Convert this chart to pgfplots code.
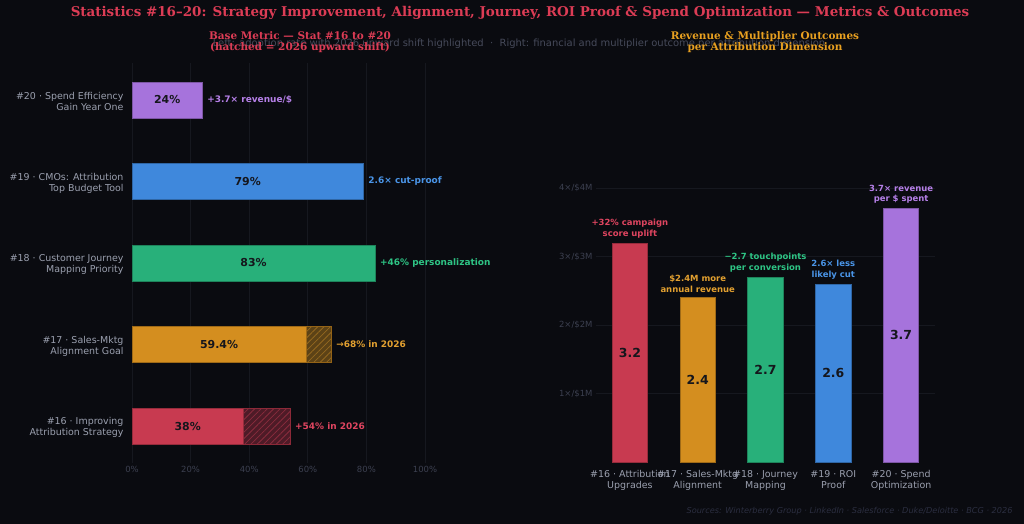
\documentclass[border=0pt]{standalone}
\usepackage{fontspec}
\setmainfont{DejaVu Sans}
\newfontfamily\titlefont{DejaVu Serif}
\usepackage{pgfplots}
\pgfplotsset{compat=1.18}
\usetikzlibrary{patterns.meta}

\definecolor{bg}{HTML}{0A0B10}
\definecolor{gridc}{HTML}{16181F}
\definecolor{catlab}{HTML}{9BA0AF}
\definecolor{dimtick}{HTML}{3C4050}
\definecolor{subt}{HTML}{464A5A}
\definecolor{srcc}{HTML}{2B2E40}
\definecolor{inlab}{HTML}{15161C}
\definecolor{titlered}{HTML}{DC3C55}
\definecolor{titleorange}{HTML}{E8A020}
% series colours
\definecolor{cred}{HTML}{C83A50}
\definecolor{corange}{HTML}{D48E1F}
\definecolor{cgreen}{HTML}{28B07A}
\definecolor{cblue}{HTML}{3F88DC}
\definecolor{cpurple}{HTML}{A673DC}
\definecolor{tred}{HTML}{E04560}
\definecolor{torange}{HTML}{E2A030}
\definecolor{tgreen}{HTML}{2EC585}
\definecolor{tblue}{HTML}{4A95E8}
\definecolor{tpurple}{HTML}{B680E8}
% 2026 shift (hatched) colours
\definecolor{hredbg}{HTML}{4E1B27}
\definecolor{hredln}{HTML}{8A2C3E}
\definecolor{horangebg}{HTML}{5C4216}
\definecolor{horangeln}{HTML}{94681F}

\begin{document}
\begin{tikzpicture}
\useasboundingbox (0,0) rectangle (1024bp,-524bp);
\fill[bg] (0,0) rectangle (1024bp,-524bp);

% titles
\node[font=\titlefont\bfseries\fontsize{13.5}{16}\selectfont, text=titlered] at (520bp,-13bp)
  {Statistics \#16–20: Strategy Improvement, Alignment, Journey, ROI Proof \& Spend Optimization — Metrics \& Outcomes};
\node[font=\fontsize{10}{12}\selectfont, text=subt] at (519bp,-43.5bp)
  {Left: adoption rate with 2026 upward shift highlighted \ · \ Right: financial and multiplier outcome per attribution dimension};
\node[font=\titlefont\bfseries\fontsize{10.5}{11.5}\selectfont, text=titlered, align=center] at (300bp,-42bp)
  {Base Metric — Stat \#16 to \#20\\(hatched = 2026 upward shift)};
\node[font=\titlefont\bfseries\fontsize{10.5}{11.5}\selectfont, text=titleorange, align=center] at (765bp,-42bp)
  {Revenue \& Multiplier Outcomes\\per Attribution Dimension};
\node[font=\itshape\fontsize{8.2}{10}\selectfont, text=srcc, anchor=east] at (1016bp,-511bp)
  {Sources: Winterberry Group · LinkedIn · Salesforce · Duke/Deloitte · BCG · 2026};

% ---------------- left: base metric per stat ----------------
\begin{axis}[
  at={(132bp,-462.7bp)}, anchor=south west,
  scale only axis, width=293bp, height=399.4bp,
  xmin=0, xmax=100, ymin=-0.45, ymax=4.45,
  xtick={0,20,40,60,80,100},
  xticklabels={0\%,20\%,40\%,60\%,80\%,100\%},
  ytick={0,1,2,3,4},
  yticklabels={{\#16 · Improving\\Attribution Strategy},
               {\#17 · Sales-Mktg\\Alignment Goal},
               {\#18 · Customer Journey\\Mapping Priority},
               {\#19 · CMOs: Attribution\\Top Budget Tool},
               {\#20 · Spend Efficiency\\Gain Year One}},
  yticklabel style={align=right, font=\fontsize{9.5}{11}\selectfont, text=catlab, xshift=-5bp, yshift=-1.5bp},
  xticklabel style={font=\fontsize{8.5}{10}\selectfont, text=dimtick},
  axis line style={draw=none},
  major tick length=0pt,
  xmajorgrids, major grid style={draw=gridc, line width=0.7pt},
  xbar, bar width=0.44,
  clip=false,
  lbar/.style={xbar, bar width=0.44, bar shift=0pt, line width=0.8pt},
]
% 2026 upward shift (hatched)
\addplot[lbar, draw=cred!70!black, fill=hredbg,
  postaction={pattern={Lines[angle=45,distance=4.5pt,line width=0.8pt]}, pattern color=hredln}]
  coordinates {(54,0)};
\addplot[lbar, draw=corange!70!black, fill=horangebg,
  postaction={pattern={Lines[angle=45,distance=4.5pt,line width=0.8pt]}, pattern color=horangeln}]
  coordinates {(68,1)};
% base metric
\addplot[lbar, draw=cred!75!black, fill=cred] coordinates {(38,0)};
\addplot[lbar, draw=corange!75!black, fill=corange] coordinates {(59.4,1)};
\addplot[lbar, draw=cgreen!75!black, fill=cgreen] coordinates {(83,2)};
\addplot[lbar, draw=cblue!75!black, fill=cblue] coordinates {(79,3)};
\addplot[lbar, draw=cpurple!75!black, fill=cpurple] coordinates {(24,4)};

\begin{scope}[every node/.style={font=\bfseries\fontsize{11}{13}\selectfont, text=inlab}]
\node at (19,0) {38\%};
\node at (29.7,1) {59.4\%};
\node at (41.5,2) {83\%};
\node at (39.5,3) {79\%};
\node at (12,4) {24\%};
\end{scope}
\begin{scope}[every node/.style={font=\bfseries\fontsize{9}{11}\selectfont, anchor=west, xshift=1.5pt}]
\node[text=tred] at (54,0) {+54\% in 2026};
\node[text=torange] at (68,1) {→68\% in 2026};
\node[text=tgreen] at (83,2) {+46\% personalization};
\node[text=tblue] at (79,3) {2.6× cut-proof};
\node[text=tpurple] at (24,4) {+3.7× revenue/\$};
\end{scope}
\end{axis}

% ---------------- right: revenue & multiplier outcomes ----------------
\begin{axis}[
  at={(596bp,-462bp)}, anchor=south west,
  scale only axis, width=339bp, height=397bp,
  xmin=-0.5, xmax=4.5, ymin=0, ymax=5.8,
  ytick={1,2,3,4},
  yticklabels={1×/\$1M,2×/\$2M,3×/\$3M,4×/\$4M},
  xtick={0,1,2,3,4},
  xticklabels={{\#16 · Attribution\\Upgrades},
               {\#17 · Sales-Mktg\\Alignment},
               {\#18 · Journey\\Mapping},
               {\#19 · ROI\\Proof},
               {\#20 · Spend\\Optimization}},
  xticklabel style={align=center, font=\fontsize{9.5}{11}\selectfont, text=catlab, yshift=-5bp},
  yticklabel style={font=\fontsize{8.5}{10}\selectfont, text=dimtick},
  axis line style={draw=none},
  major tick length=0pt,
  ymajorgrids, major grid style={draw=gridc, line width=0.7pt},
  ybar, bar width=0.52,
  clip=false,
  rbar/.style={ybar, bar width=0.52, bar shift=0pt, line width=0.8pt},
]
\addplot[rbar, draw=cred!75!black, fill=cred] coordinates {(0,3.2)};
\addplot[rbar, draw=corange!75!black, fill=corange] coordinates {(1,2.4)};
\addplot[rbar, draw=cgreen!75!black, fill=cgreen] coordinates {(2,2.7)};
\addplot[rbar, draw=cblue!75!black, fill=cblue] coordinates {(3,2.6)};
\addplot[rbar, draw=cpurple!75!black, fill=cpurple] coordinates {(4,3.7)};

\begin{scope}[every node/.style={font=\bfseries\fontsize{12.5}{14}\selectfont, text=inlab}]
\node at (0,1.6) {3.2};
\node at (1,1.2) {2.4};
\node at (2,1.35) {2.7};
\node at (3,1.3) {2.6};
\node at (4,1.85) {3.7};
\end{scope}
\begin{scope}[every node/.style={font=\bfseries\fontsize{8.5}{10.5}\selectfont, anchor=south, align=center, inner sep=0pt, yshift=5pt}]
\node[text=tred] at (0,3.2) {+32\% campaign\\score uplift};
\node[text=torange] at (1,2.4) {\$2.4M more\\annual revenue};
\node[text=tgreen] at (2,2.7) {−2.7 touchpoints\\per conversion};
\node[text=tblue] at (3,2.6) {2.6× less\\likely cut};
\node[text=tpurple] at (4,3.7) {3.7× revenue\\per \$ spent};
\end{scope}
\end{axis}
\end{tikzpicture}
\end{document}
